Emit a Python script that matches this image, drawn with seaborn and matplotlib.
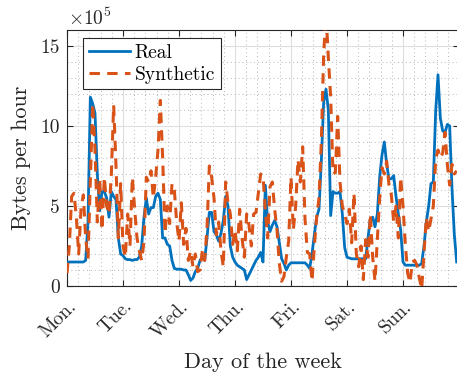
import numpy as np
import pandas as pd
import matplotlib
matplotlib.use("Agg")
import matplotlib.pyplot as plt
import seaborn as sns
from matplotlib.ticker import MultipleLocator

# ---- data (values in units of 1e5 bytes per hour), hourly over one week ----
day_labels = ["Mon.", "Tue.", "Wed.", "Thu.", "Fri.", "Sat.", "Sun."]

real_mon = [1.5,1.5,1.5,1.5,1.5,1.5,1.5,1.5,1.6,4.0,11.8,11.4,10.8,7.0,4.7,5.9,5.9,5.5,4.3,5.9,5.6,5.4,3.0,2.0]
real_tue = [1.9,1.7,1.65,1.65,1.6,1.65,1.65,1.8,2.5,4.3,5.5,4.5,4.9,4.9,5.6,5.8,5.4,3.0,3.0,2.6,2.5,1.6,1.1,1.05]
real_wed = [1.05,1.05,1.0,1.0,0.7,0.35,0.5,0.9,1.1,1.6,1.8,1.6,3.0,4.6,4.6,3.4,3.2,2.8,3.3,4.1,5.6,5.0,2.5,1.8]
real_thu = [1.5,1.3,1.2,1.1,1.0,0.4,0.7,1.0,1.3,1.6,1.8,2.1,1.5,6.3,4.0,3.4,3.8,4.1,3.7,2.7,1.7,1.4,1.0,1.3]
real_fri = [1.45,1.45,1.45,1.45,1.45,1.45,1.45,1.3,1.1,2.0,3.2,4.3,4.8,7.8,11.5,12.3,11.0,4.4,5.9,5.8,5.8,5.9,4.5,2.4]
real_sat = [1.8,1.75,1.7,1.7,1.7,1.7,1.7,1.7,1.7,3.0,4.2,4.3,3.7,4.5,6.8,8.2,9.0,7.6,6.7,6.7,6.9,5.6,4.5,3.5]
real_sun = [1.5,1.3,1.3,1.3,1.3,1.3,1.3,1.3,1.4,2.5,4.0,5.0,6.4,6.5,10.9,13.2,10.5,9.7,9.6,10.1,10.0,6.1,3.2,1.5]

syn_mon = [0.8,2.5,5.6,5.8,4.3,2.0,4.8,5.7,3.0,1.7,6.5,11.4,8.5,4.0,6.7,3.5,6.8,5.0,4.5,7.0,11.3,7.5,3.0,6.4]
syn_tue = [2.5,1.8,4.5,2.5,6.8,4.8,3.0,2.2,1.6,2.8,6.8,6.5,7.2,5.5,6.8,8.5,11.6,8.0,3.3,5.0,3.9,6.4,6.0,4.0]
syn_wed = [2.8,5.2,2.6,3.6,1.6,2.2,1.2,2.0,0.9,1.0,2.2,1.6,3.6,7.5,6.8,5.5,3.2,4.0,2.2,1.2,6.5,5.2,4.5,2.6]
syn_thu = [3.5,2.2,4.8,3.0,1.8,4.5,3.8,2.5,4.5,4.6,5.8,7.0,6.9,4.7,3.0,6.2,6.5,4.8,3.5,1.4,0.3,0.6,1.8,2.8]
syn_fri = [6.8,3.5,5.0,7.9,6.5,8.7,4.2,2.1,2.0,0.3,2.5,4.3,5.5,9.0,14.5,17.0,14.3,11.8,7.0,7.1,10.6,6.5,5.0,4.5]
syn_sat = [3.9,4.8,2.7,5.8,2.0,1.2,2.5,0.4,2.9,1.8,4.5,1.8,0.3,2.9,5.5,7.4,7.0,7.8,6.3,5.7,4.0,5.0,3.0,6.8]
syn_sun = [5.0,2.6,0.8,0.2,1.5,1.6,1.3,0.5,-0.2,2.0,4.3,3.4,4.2,5.0,7.9,8.5,8.0,8.3,9.6,7.6,6.3,7.6,7.0,7.2]

real = real_mon + real_tue + real_wed + real_thu + real_fri + real_sat + real_sun
synthetic = syn_mon + syn_tue + syn_wed + syn_thu + syn_fri + syn_sat + syn_sun
hours = list(range(len(real)))

# ---- style ----
plt.rcParams.update({
    "font.family": ["cmr10", "DejaVu Serif"],
    "mathtext.fontset": "cm",
    "axes.formatter.use_mathtext": True,
    "axes.unicode_minus": False,
})

BLUE = "#0072BD"
ORANGE = "#D95319"
DARK = "#262626"

fig = plt.figure(figsize=(4.57, 3.74), dpi=100)
ax = fig.add_axes([67/457, 1 - 286/374, 392/457, 256/374])

sns.lineplot(x=hours, y=real, ax=ax, color=BLUE, linewidth=2.0, label="Real", zorder=3)
sns.lineplot(x=hours, y=synthetic, ax=ax, color=ORANGE, linewidth=2.2,
             linestyle=(0, (3.4, 2.4)), label="Synthetic", zorder=4)

ax.set_xlim(0, 168)
ax.set_ylim(0, 16)
ax.set_xticks([24 * i for i in range(7)])
ax.set_xticklabels(day_labels, rotation=45, ha="right", va="top",
                   rotation_mode="anchor", fontsize=14)
ax.xaxis.set_minor_locator(MultipleLocator(4.8))
ax.set_yticks([0, 5, 10, 15])
ax.set_yticklabels(["0", "5", "10", "15"], fontsize=14)
ax.yaxis.set_minor_locator(MultipleLocator(1))

ax.grid(True, which="major", color="#dedede", linewidth=0.8, linestyle="-", zorder=0)
ax.grid(True, which="minor", color="#b5b5b5", linewidth=0.7, linestyle=(0, (1, 3)), zorder=0)
ax.set_axisbelow(True)

ax.tick_params(which="major", direction="in", length=4, width=0.8, color=DARK,
               top=True, right=True, pad=5, labelcolor=DARK)
ax.tick_params(axis="x", which="major", pad=8)
ax.tick_params(which="minor", length=0, top=True, right=True)
for sp in ax.spines.values():
    sp.set_color(DARK)
    sp.set_linewidth(0.8)

ax.set_xlabel("Day of the week", fontsize=16, color=DARK, labelpad=8)
ax.set_ylabel("Bytes per hour", fontsize=16, color=DARK, labelpad=7)

fig.text(68/457, 1 - 18/374, r"$\times10^{5}$", fontsize=14, color=DARK,
         ha="left", va="center")

leg = ax.legend(loc="upper left", bbox_to_anchor=(16/392, 1 - 8/256), frameon=True,
                fancybox=False, edgecolor=DARK, framealpha=1, fontsize=14,
                handlelength=2.1, borderpad=0.3, labelspacing=0.2, handletextpad=0.25,
                borderaxespad=0)
leg.get_frame().set_linewidth(0.8)

fig.savefig("out.png", dpi=100)
